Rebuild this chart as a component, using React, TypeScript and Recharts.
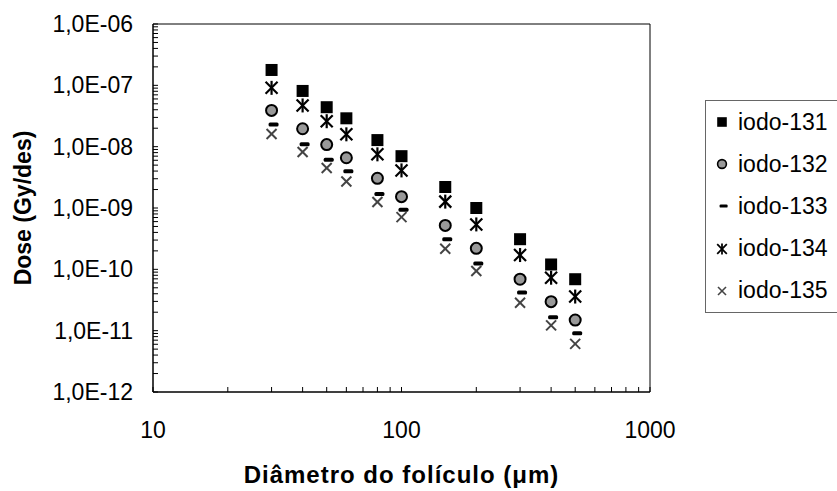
import React from "react";
import {
  ScatterChart,
  Scatter,
  XAxis,
  YAxis,
  ReferenceArea,
} from "recharts";

// diâmetro do folículo (µm)
const diameters = [30, 40, 50, 60, 80, 100, 150, 200, 300, 400, 500];

// dose (Gy/des) por isótopo
const iodo131 = [1.78e-7, 8.1e-8, 4.4e-8, 2.9e-8, 1.28e-8, 7.0e-9, 2.2e-9, 1.0e-9, 3.1e-10, 1.2e-10, 6.9e-11];
const iodo132 = [3.9e-8, 1.96e-8, 1.08e-8, 6.6e-9, 3.05e-9, 1.53e-9, 5.2e-10, 2.2e-10, 6.9e-11, 2.97e-11, 1.49e-11];
const iodo133 = [2.3e-8, 1.09e-8, 6.1e-9, 3.96e-9, 1.69e-9, 9.4e-10, 3.1e-10, 1.25e-10, 4.2e-11, 1.65e-11, 9.1e-12];
const iodo134 = [9.1e-8, 4.7e-8, 2.6e-8, 1.59e-8, 7.5e-9, 4.1e-9, 1.27e-9, 5.4e-10, 1.71e-10, 7.3e-11, 3.6e-11];
const iodo135 = [1.61e-8, 8.2e-9, 4.5e-9, 2.7e-9, 1.25e-9, 7.1e-10, 2.17e-10, 9.4e-11, 2.86e-11, 1.22e-11, 6.1e-12];

const xTicks = [10, 20, 30, 40, 50, 60, 70, 80, 90, 100, 200, 300, 400, 500, 600, 700, 800, 900, 1000];
const yDecades = [-12, -11, -10, -9, -8, -7, -6];
const yTicks = yDecades.flatMap((e) =>
  e === -6 ? [1e-6] : [1, 2, 3, 4, 5, 6, 7, 8, 9].map((m) => Number(`${m}e${e}`))
);

const toPoints = (vals: number[]) => vals.map((dose, i) => ({ d: diameters[i], dose }));

const FONT = "Arial, 'Liberation Sans', sans-serif";

const isDecade = (v: number) => Math.abs(Math.log10(v) - Math.round(Math.log10(v))) < 1e-6;

const Square = ({ cx, cy }: any) => <rect x={cx - 6} y={cy - 6} width={12} height={12} fill="#000" />;
const Circle = ({ cx, cy }: any) => <circle cx={cx} cy={cy} r={5.5} fill="#999" stroke="#000" strokeWidth={2} />;
const Dash = ({ cx, cy }: any) => <rect x={cx - 3} y={cy - 2} width={10} height={4} rx={1.5} fill="#000" />;
const Star = ({ cx, cy }: any) => (
  <g stroke="#000" strokeWidth={2.2}>
    <line x1={cx - 6} y1={cy - 6} x2={cx + 6} y2={cy + 6} />
    <line x1={cx - 6} y1={cy + 6} x2={cx + 6} y2={cy - 6} />
    <line x1={cx} y1={cy - 7} x2={cx} y2={cy + 7} />
  </g>
);
const Cross = ({ cx, cy }: any) => (
  <g stroke="#444" strokeWidth={2}>
    <line x1={cx - 5} y1={cy - 5} x2={cx + 5} y2={cy + 5} />
    <line x1={cx - 5} y1={cy + 5} x2={cx + 5} y2={cy - 5} />
  </g>
);

const series = [
  { name: "iodo-131", data: iodo131, shape: Square },
  { name: "iodo-132", data: iodo132, shape: Circle },
  { name: "iodo-133", data: iodo133, shape: Dash },
  { name: "iodo-134", data: iodo134, shape: Star },
  { name: "iodo-135", data: iodo135, shape: Cross },
];

const XTick = ({ x, y, payload }: any) => (
  <g>
    <line x1={x} y1={y} x2={x} y2={y - 5} stroke="#000" />
    {isDecade(payload.value) && (
      <text x={x} y={y + 38} dy="0.35em" textAnchor="middle" fontSize={23} fontFamily={FONT} fill="#000">
        {payload.value}
      </text>
    )}
  </g>
);

const YTick = ({ x, y, payload }: any) => {
  const e = Math.round(Math.log10(payload.value));
  return (
    <g>
      <line x1={x} y1={y} x2={x + 5} y2={y} stroke="#000" />
      {isDecade(payload.value) && (
        <text x={x - 20} y={y} dy="0.35em" textAnchor="end" fontSize={23} fontFamily={FONT} fill="#000">
          {`1,0E-${String(-e).padStart(2, "0")}`}
        </text>
      )}
    </g>
  );
};

const LegendIcon = ({ shape: Shape }: any) => (
  <svg width={20} height={20} style={{ display: "block" }}>
    <g transform="translate(10 10) scale(0.8) translate(-10 -10)">
      <Shape cx={10} cy={10} />
    </g>
  </svg>
);

export default function App() {
  return (
    <div style={{ position: "absolute", left: 0, top: 0, width: 837, height: 491, background: "#fff" }}>
      <ScatterChart width={837} height={491} margin={{ top: 24, right: 187, left: 0, bottom: 0 }}>
        <XAxis
          type="number"
          dataKey="d"
          scale="log"
          domain={[10, 1000]}
          ticks={xTicks}
          interval={0}
          height={99}
          tickSize={0}
          tickMargin={0}
          tick={<XTick />}
          axisLine={{ stroke: "#000" }}
          allowDataOverflow
          label={{
            value: "Diâmetro do folículo (μm)",
            position: "insideBottom",
            offset: 8,
            style: { fontSize: 24, fontWeight: "bold", letterSpacing: 1, fontFamily: FONT, fill: "#000" },
          }}
        />
        <YAxis
          type="number"
          dataKey="dose"
          scale="log"
          domain={[1e-12, 1e-6]}
          ticks={yTicks}
          interval={0}
          width={153}
          tickSize={0}
          tickMargin={0}
          tick={<YTick />}
          axisLine={{ stroke: "#000" }}
          allowDataOverflow
          label={{
            value: "Dose (Gy/des)",
            angle: -90,
            position: "insideLeft",
            offset: 0,
            dx: 23,
            style: { fontSize: 23, fontWeight: "bold", fontFamily: FONT, fill: "#000", textAnchor: "middle" },
          }}
        />
        <ReferenceArea x1={10} x2={1000} y1={1e-12} y2={1e-6} fill="none" stroke="#000" strokeWidth={1} ifOverflow="visible" />
        {series.map((s) => (
          <Scatter
            key={s.name}
            name={s.name}
            data={toPoints(s.data)}
            shape={s.shape}
            isAnimationActive={false}
          />
        ))}
      </ScatterChart>
      <div
        style={{
          position: "absolute",
          left: 705,
          top: 100,
          width: 140,
          height: 213,
          border: "1px solid #666",
          boxSizing: "border-box",
          fontFamily: FONT,
          fontSize: 23,
        }}
      >
        {series.map((s) => (
          <div key={s.name} style={{ display: "flex", alignItems: "center", height: 42.2 }}>
            <div style={{ width: 32, display: "flex", justifyContent: "center" }}>
              <LegendIcon shape={s.shape} />
            </div>
            <span>{s.name}</span>
          </div>
        ))}
      </div>
    </div>
  );
}
